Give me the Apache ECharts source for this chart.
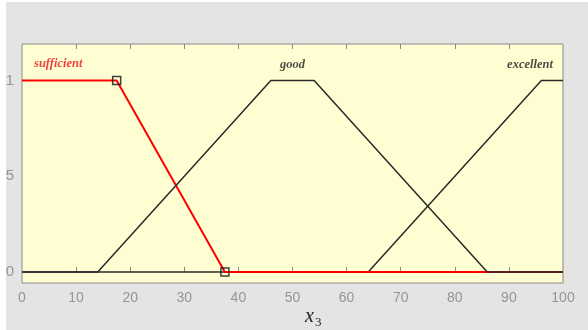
<!DOCTYPE html>
<html><head><meta charset="utf-8">
<script src="https://cdn.jsdelivr.net/npm/echarts@6/dist/echarts.min.js"></script>
<style>html,body{margin:0;padding:0;background:#fff}#c{width:588px;height:330px}</style>
</head><body><div id="c"></div>
<script>
const xTicks = [0,10,20,30,40,50,60,70,80,90,100];
const yTickValues = [0, 0.5, 1];
const yTickLabels = ['0', '5', '1'];
const sufficientX = [0, 17.5, 37.5, 100];
const sufficientY = [1, 1, 0, 0];
const goodX = [0, 14, 46, 54, 86, 100];
const goodY = [0, 0, 1, 1, 0, 0];
const excellentX = [0, 64, 96, 100];
const excellentY = [0, 0, 1, 1];
const markerX = [17.5, 37.5];
const markerY = [1, 0];
const mfNames = ['sufficient', 'good', 'excellent'];
const mfLabelX = [6.7, 50, 93.9];
const mfLabelY = [1.085, 1.08, 1.08];
const mfLabelColors = ['#e8141c', '#1a1a1a', '#1a1a1a'];

const zip = (xs, ys) => xs.map((x, i) => [x, ys[i]]);

const chart = echarts.init(document.getElementById('c'), null, {renderer: 'canvas'});
const axisBase = {
  type: 'value', min: 0, max: 100, interval: 10,
  axisLine: {show: false},
  splitLine: {show: false},
  axisTick: {show: true, inside: true, length: 5, lineStyle: {color: '#8a8a8a', width: 1}, customValues: [10,20,30,40,50,60,70,80,90]}
};
chart.setOption({
  animation: false,
  backgroundColor: '#e4e4e4',
  graphic: [
    {type: 'rect', left: 0, top: 0, shape: {width: 6, height: 330}, style: {fill: '#ffffff'}, silent: true},
    {type: 'rect', left: 0, top: 0, shape: {width: 588, height: 2}, style: {fill: '#ffffff'}, silent: true},
    {type: 'text', left: 305, top: 307, style: {
      text: '{x|x}{s|3}', rich: {
        x: {fontFamily: 'Liberation Serif', fontStyle: 'italic', fontSize: 20, fill: '#222'},
        s: {fontFamily: 'Liberation Serif', fontSize: 13, fill: '#222', padding: [12, 0, 0, 1]}
      }}}
  ],
  grid: {left: 22, right: 25, top: 44, bottom: 47, show: true, backgroundColor: '#fefed2', borderColor: '#8a8a8a', borderWidth: 1},
  xAxis: [
    Object.assign({}, axisBase, {position: 'bottom',
      axisLabel: {show: true, color: '#959595', fontFamily: 'Liberation Sans', fontSize: 14, margin: 8, customValues: xTicks}}),
    Object.assign({}, axisBase, {position: 'top', axisLabel: {show: false}})
  ],
  yAxis: {
    type: 'value', min: -0.058, max: 1.19,
    axisLine: {show: false}, splitLine: {show: false}, axisTick: {show: false},
    axisLabel: {show: true, customValues: yTickValues, color: '#959595', fontFamily: 'Liberation Sans', fontSize: 15, margin: 8,
      formatter: v => yTickLabels[yTickValues.findIndex(t => Math.abs(t - v) < 1e-6)]}
  },
  series: [
    {type: 'line', name: 'excellent', data: zip(excellentX, excellentY), showSymbol: false, lineStyle: {color: '#2a2a2a', width: 1.5}, z: 2},
    {type: 'line', name: 'sufficient', data: zip(sufficientX, sufficientY), showSymbol: false, lineStyle: {color: '#ff0000', width: 2}, z: 3},
    {type: 'line', name: 'good', data: zip(goodX, goodY), showSymbol: false, lineStyle: {color: '#2a2a2a', width: 1.5}, z: 4},
    {type: 'scatter', data: zip(markerX, markerY), symbol: 'rect', symbolSize: 8,
      itemStyle: {color: 'rgba(0,0,0,0)', borderColor: '#111', borderWidth: 1.5}, z: 5},
    {type: 'scatter', data: mfNames.map((n, i) => ({value: [mfLabelX[i], mfLabelY[i]], name: n,
        label: {color: mfLabelColors[i]}})), symbolSize: 0,
      label: {show: true, position: 'inside', formatter: p => p.name, fontFamily: 'Liberation Serif', fontStyle: 'italic', fontWeight: 'bold', fontSize: 12.5}, z: 6}
  ]
});
</script></body></html>
